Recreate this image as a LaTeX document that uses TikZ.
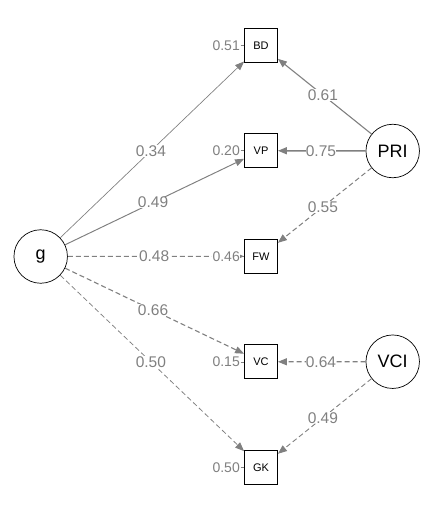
\documentclass[tikz,border=0pt]{standalone}
\usepackage{fontspec}
\setmainfont{Liberation Sans}
\usetikzlibrary{arrows.meta,calc}
\definecolor{edgegray}{RGB}{128,128,128}
\tikzset{
  latent/.style={circle,draw=black,line width=0.7pt,minimum size=53.5pt,inner sep=0pt,font=\fontsize{18}{18}\selectfont},
  manifest/.style={rectangle,draw=black,line width=0.8pt,minimum width=33pt,minimum height=34pt,inner sep=0pt,font=\fontsize{11}{11}\selectfont},
  loading/.style={draw=edgegray,-{Triangle[length=9pt,width=7pt]},fill=none},
  dashedge/.style={dash pattern=on 5pt off 3pt},
  elab/.style={fill=white,inner sep=0.3pt,text=edgegray,font=\fontsize{15.5}{15.5}\selectfont},
  rlab/.style={fill=white,inner sep=0.5pt,text=edgegray,font=\fontsize{14}{14}\selectfont,anchor=east},
  rline/.style={draw=edgegray,line width=0.6pt}
}
\begin{document}
\begin{tikzpicture}[x=1pt,y=-1pt]
\useasboundingbox (0,0) rectangle (441,507);
% nodes
\node[latent] (g) at (40.7,256.5) {g};
\node[latent] (PRI) at (392.7,151) {PRI};
\node[latent] (VCI) at (392.7,361.7) {VCI};
\node[manifest] (BD) at (261,45.3) {BD};
\node[manifest] (VP) at (261,150.7) {VP};
\node[manifest] (FW) at (261,256.3) {FW};
\node[manifest] (VC) at (261,361.8) {VC};
\node[manifest] (GK) at (261,467.3) {GK};
% edges from g
\draw[loading,line width=0.68pt] (g) -- (BD);
\draw[loading,line width=0.98pt] (g) -- (VP);
\draw[loading,dashedge,line width=0.96pt] (g) -- (FW);
\draw[loading,dashedge,line width=1.1pt] (g) -- (VC);
\draw[loading,dashedge,line width=0.8pt] (g) -- (GK);
% edges from PRI and VCI
\draw[loading,line width=1.1pt] (PRI) -- (BD);
\draw[loading,line width=1.5pt] (PRI) -- (VP);
\draw[loading,dashedge,line width=1.0pt] (PRI) -- (FW);
\draw[loading,dashedge,line width=1.2pt] (VCI) -- (VC);
\draw[loading,dashedge,line width=0.9pt] (VCI) -- (GK);
% edge labels
\node[elab] (l1) at ($(g)!0.5!(BD)$) {0.34};
\node[elab] (l2) at ($(g)!0.51!(VP)$) {0.49};
\node[elab] (l3) at ($(g)!0.515!(FW)$) {0.48};
\node[elab] (l4) at ($(g)!0.51!(VC)$) {0.66};
\node[elab] (l5) at ($(g)!0.5!(GK)$) {0.50};
\node[elab] (l6) at ($(PRI)!0.53!(BD)$) {0.61};
\node[elab] (l7) at ($(PRI)!0.545!(VP)$) {0.75};
\node[elab] (l8) at ($(PRI)!0.53!(FW)$) {0.55};
\node[elab] (l9) at ($(VCI)!0.545!(VC)$) {0.64};
\node[elab] (l10) at ($(VCI)!0.53!(GK)$) {0.49};
% residuals
\node[rlab] (rBD) at (240.5,45.3) {0.51};
\node[rlab] (rVP) at (240.5,150.7) {0.20};
\node[rlab] (rFW) at (240.5,256.3) {0.46};
\node[rlab] (rVC) at (240.5,361.8) {0.15};
\node[rlab] (rGK) at (240.5,467.3) {0.50};
\draw[rline] (rBD.east) -- (BD.west);
\draw[rline] (rVP.east) -- (VP.west);
\draw[rline] (rFW.east) -- (FW.west);
\draw[rline] (rVC.east) -- (VC.west);
\draw[rline] (rGK.east) -- (GK.west);
\end{tikzpicture}
\end{document}
